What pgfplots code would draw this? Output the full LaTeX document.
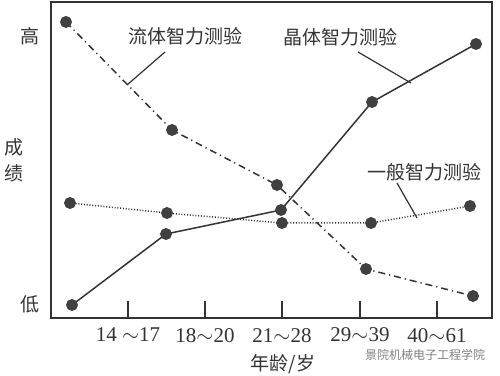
\documentclass[border=0pt]{standalone}
\usepackage{pgfplots}
\pgfplotsset{compat=1.18}
\usepackage{fontspec}
\setmainfont{Liberation Serif}
\newfontfamily\cjk{Noto Sans CJK SC}
\definecolor{ink}{HTML}{333333}
\definecolor{dot}{HTML}{404040}
\begin{document}
\begin{tikzpicture}
\begin{axis}[
  scale only axis,
  width=220.5pt, height=158pt,
  xmin=51, xmax=492, ymin=0, ymax=316,
  clip=false,
  axis line style={ink, line width=0.7pt},
  xtick={128,205,282,360,437},
  xticklabels={{14 $\sim$17},{18$\sim$20},{21$\sim$28},{29$\sim$39},{40$\sim$61}},
  xtick pos=bottom,
  tick align=inside,
  major tick length=8.5pt,
  x tick style={ink, line width=0.7pt},
  xticklabel style={yshift=-1.5pt, font=\fontsize{10.5}{12}\selectfont},
  ytick={14,282},
  yticklabels={{\cjk 低},{\cjk 高}},
  ytick pos=left,
  y tick style={draw=none},
  yticklabel style={xshift=-2pt, font=\cjk\fontsize{9.5}{11}\selectfont},
  tick label style={text=ink},
  every axis plot/.append style={ink, line width=0.75pt},
  mark options={solid, fill=dot, draw=dot},
]
% fluid intelligence (dash-dot)
\addplot[mark=*, mark size=2.6pt, dash pattern=on 3.5pt off 2pt on 0.6pt off 2pt] coordinates {
  (66,296) (172,188) (277,133) (366,49) (473,22)};
% crystallized intelligence (solid)
\addplot[mark=*, mark size=2.6pt, solid] coordinates {
  (72,13) (166,84) (281,108) (372,216) (476,274)};
% general intelligence (dotted)
\addplot[mark=*, mark size=2.6pt, dash pattern=on 0.5pt off 0.9pt] coordinates {
  (70,115) (167,105) (282,95) (371,95) (470,112)};

\node[font=\cjk\fontsize{9.5}{11}\selectfont, text=ink] at (axis cs:185,282) {流体智力测验};
\node[font=\cjk\fontsize{9.5}{11}\selectfont, text=ink] at (axis cs:340,281) {晶体智力测验};
\node[font=\cjk\fontsize{9.5}{11}\selectfont, text=ink] at (axis cs:424,146) {一般智力测验};
\draw[ink, line width=0.6pt] (axis cs:165,266) -- (axis cs:127,233);
\draw[ink, line width=0.6pt] (axis cs:358,266) -- (axis cs:411,235);
\draw[ink, line width=0.6pt] (axis cs:397,135) -- (axis cs:417,100);
\node[font=\cjk\fontsize{9.5}{11}\selectfont, text=ink, align=center, inner sep=0pt] at (axis cs:14,158) {成\\[2pt]绩};
\node[font=\cjk\fontsize{9.5}{11}\selectfont, text=ink] at (axis cs:283,-46) {年龄/岁};
\node[font=\cjk\fontsize{6}{7}\selectfont, text=gray] at (axis cs:425,-37) {景院机械电子工程学院};
\coordinate (bl) at (axis cs:0,-58);
\coordinate (tr) at (axis cs:500,318);
\end{axis}
\pgfresetboundingbox
\path[use as bounding box] (bl) rectangle (tr);
\end{tikzpicture}
\end{document}
